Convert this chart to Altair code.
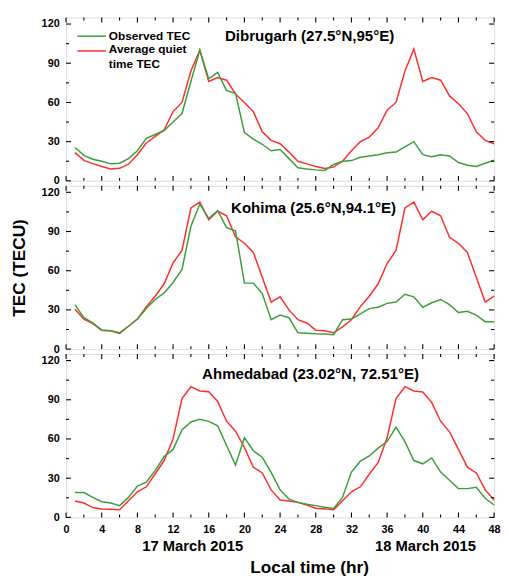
import altair as alt
import pandas as pd

# ---------------- data ----------------
HOURS = list(range(1, 49))
SERIES = ["Observed TEC", "Average quiet time TEC"]
COLORS = ["#3c9e3c", "#ff2e2e"]

PANEL_TITLES = ["Dibrugarh (27.5°N,95°E)", "Kohima (25.6°N,94.1°E)", "Ahmedabad (23.02°N, 72.51°E)"]

dib_obs = [25.5, 19.5, 16.5, 15, 13, 13.5, 17, 23, 32.5, 35.5, 38.5, 45, 51.5, 76, 100, 78, 83, 69, 67, 37, 32, 28, 23, 24,
           17, 10, 9, 8.4, 8, 12.5, 15, 15.5, 18, 19, 20, 21.5, 22, 26, 30, 20, 18.5, 20, 19, 14, 12, 11, 13.5, 15.7]
dib_avg = [21.6, 15.7, 13.2, 11, 9, 9.6, 12.7, 20, 29, 34, 39, 53, 60, 84, 100, 76, 79, 77, 66.5, 60, 53, 37.5, 31, 28.4,
           22, 15, 13, 11, 9.5, 10.5, 15, 23, 30, 33.5, 40.6, 54, 60, 84, 100.8, 76, 79, 77, 65, 59, 51.5, 37.5, 31, 28.4]

koh_obs = [34, 24, 20, 14.5, 14, 12.5, 17.5, 23, 31, 38, 43, 51, 61, 94, 111, 100, 106, 93, 90.5, 50.5, 50.5, 42.5, 22.5, 26,
           24, 12.5, 12.2, 11.7, 11.5, 11, 22.5, 23, 27, 31, 32, 35, 36, 42, 40, 32, 35.5, 38, 34, 28, 29, 26, 21, 21]
koh_avg = [30.5, 23, 19.5, 14.5, 14, 12, 17.5, 23, 32.5, 40.5, 50, 66, 75.5, 108, 112.5, 99, 105.5, 102, 86, 81, 74, 55, 36, 40,
           30, 22.5, 20, 14.5, 14, 12.5, 17, 22.5, 32.5, 40.5, 50, 65.5, 75.5, 108, 112.5, 99, 105.5, 102, 85.5, 81, 74, 55, 36, 40.5]

ahm_obs = [19, 19, 15.3, 12, 11, 9, 15.3, 24, 27, 36, 46.5, 52, 67, 73, 75, 73.5, 70, 55, 40, 61, 51, 46, 34.5, 21,
           14, 11.5, 10, 9, 7.8, 6.8, 15.3, 34.7, 43, 47, 53, 58, 69, 58, 43.5, 41, 45.5, 34.7, 28.4, 22, 22, 23, 14.6, 9.5]
ahm_avg = [12.5, 11, 7.5, 6.5, 6.3, 5.8, 12.8, 19.6, 23.4, 33.4, 43.5, 60, 91, 100, 96.7, 96.2, 88.7, 73.6, 66, 53.5, 38.4, 34, 21, 13.3,
           12.5, 11.5, 9.5, 7, 6.5, 5.8, 12.8, 19.6, 23.4, 33, 42, 61, 91, 100, 96.7, 96, 88, 73.6, 65.5, 52, 38.4, 34, 21, 13.3]

X_MAJOR = [0, 4, 8, 12, 16, 20, 24, 28, 32, 36, 40, 44, 48]
X_MINOR = [2, 6, 10, 14, 18, 22, 26, 30, 34, 38, 42, 46]
Y_MAJOR = [0, 30, 60, 90, 120]
Y_MINOR = [15, 45, 75, 105]

DATE_LABELS = ["17 March 2015", "18 March 2015"]
DATE_HOURS = [14.2, 40.3]

# ---------------- layout ----------------
W, H = 435, 166
YMAX = 125
FONT = "Liberation Sans"
xs = alt.Scale(domain=[0, 48], nice=False, zero=False)
ys = alt.Scale(domain=[0, YMAX], nice=False)


def panel(obs, avg, title, title_dx, title_dy, bottom, ytitle, legend):
    if bottom:
        xaxis = alt.Axis(values=X_MAJOR, ticks=False, domain=False, grid=False, labelFont=FONT,
                         labelFontSize=11, labelFontWeight="bold", labelColor="black", labelPadding=6,
                         labelFlush=False,
                         title="Local time (hr)", titleFont=FONT, titleFontSize=17.5, titleFontWeight="bold",
                         titleColor="black", titleX=247, titleY=51, titleAlign="center", titleBaseline="middle")
    else:
        xaxis = None
    yaxis = alt.Axis(values=Y_MAJOR, ticks=False, domain=False, grid=False, labelFont=FONT,
                     labelFontSize=11, labelFontWeight="bold", labelColor="black", labelPadding=7,
                     title=ytitle, titleFont=FONT, titleFontSize=17.5, titleFontWeight="bold",
                     titleColor="black", titlePadding=13)
    X = lambda: alt.X("hour:Q", scale=xs, axis=xaxis)
    Y = lambda: alt.Y("value:Q", scale=ys, axis=yaxis)

    layers = []
    # lines: average (red) first, observed (green) on top
    for name, vals, col in [(SERIES[1], avg, COLORS[1]), (SERIES[0], obs, COLORS[0])]:
        df = pd.DataFrame({"hour": HOURS, "value": vals, "series": name})
        layers.append(alt.Chart(df).mark_line(strokeWidth=1.5, color=col).encode(x=X(), y=Y()))

    # inward ticks
    for vals, ln in [(X_MAJOR, 5), (X_MINOR, 3)]:
        d = pd.DataFrame({"hour": vals})
        layers.append(alt.Chart(d).mark_rule(color="black", strokeWidth=1.1).encode(
            x=X(), y=alt.value(0), y2=alt.value(ln)))
        layers.append(alt.Chart(d).mark_rule(color="black", strokeWidth=1.1).encode(
            x=X(), y=alt.value(H), y2=alt.value(H - ln)))
    for vals, ln in [(Y_MAJOR, 5), (Y_MINOR, 3)]:
        d = pd.DataFrame({"value": vals})
        layers.append(alt.Chart(d).mark_rule(color="black", strokeWidth=1.1).encode(
            y=Y(), x=alt.value(0), x2=alt.value(ln)))
        layers.append(alt.Chart(d).mark_rule(color="black", strokeWidth=1.1).encode(
            y=Y(), x=alt.value(W), x2=alt.value(W - ln)))

    # panel title
    layers.append(alt.Chart(pd.DataFrame({"t": [title]})).mark_text(
        font=FONT, fontSize=15.3, fontWeight="bold", color="black", align="center", baseline="middle"
    ).encode(text="t:N", x=alt.value(title_dx), y=alt.value(title_dy)))

    if legend:
        for i, (name, col) in enumerate(zip(SERIES, COLORS)):
            yy = 19 + 15 * i
            layers.append(alt.Chart(pd.DataFrame({"s": [name]})).mark_rule(color=col, strokeWidth=1.5).encode(
                x=alt.value(11.5), x2=alt.value(40.5), y=alt.value(yy)))
        lg = pd.DataFrame({"t": ["Observed TEC", "Average quiet\ntime TEC"]})
        layers.append(alt.Chart(lg.iloc[[0]]).mark_text(
            font=FONT, fontSize=12, fontWeight="bold", color="black", align="left", baseline="middle"
        ).encode(text="t:N", x=alt.value(43.5), y=alt.value(19)))
        layers.append(alt.Chart(lg.iloc[[1]]).mark_text(
            font=FONT, fontSize=12, fontWeight="bold", color="black", align="left", baseline="top",
            lineBreak="\n", lineHeight=15.5
        ).encode(text="t:N", x=alt.value(43.5), y=alt.value(27)))

    if bottom:
        dd = pd.DataFrame({"hour": DATE_HOURS, "t": DATE_LABELS})
        layers.append(alt.Chart(dd).mark_text(
            font=FONT, fontSize=15, fontWeight="bold", color="black", align="center", baseline="middle"
        ).encode(x=X(), text="t:N", y=alt.value(H + 29)))

    return alt.layer(*layers).properties(width=W, height=H)


p1 = panel(dib_obs, dib_avg, PANEL_TITLES[0], 247.5, 19, False, None, True)
p2 = panel(koh_obs, koh_avg, PANEL_TITLES[1], 251.5, 23, False, "TEC (TECU)", False)
p3 = panel(ahm_obs, ahm_avg, PANEL_TITLES[2], 248.5, 20, True, None, False)

chart = alt.vconcat(p1, p2, p3, spacing=5, bounds="flush").properties(
    padding={"left": 2, "top": 3, "right": 0, "bottom": 0}
).configure_view(stroke="black", strokeWidth=1.2).configure(background="white")

chart.save("out.html", embed_options={"renderer": "svg", "actions": False})
